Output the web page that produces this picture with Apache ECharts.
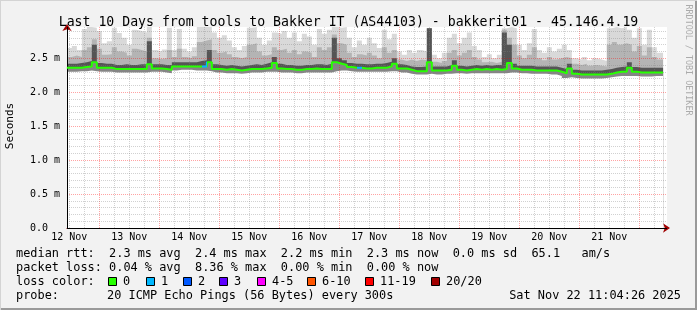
<!DOCTYPE html>
<html><head><meta charset="utf-8">
<script src="https://cdn.jsdelivr.net/npm/echarts@6/dist/echarts.min.js"></script>
<style>html,body{margin:0;padding:0;background:#f2f2f2}#c{width:697px;height:310px}</style>
</head><body><div id="c"></div>
<script>
// ---- time frame (hours since 12 Nov 00:00) ----
const startHour = 11 + 4/60;          // 12 Nov 11:04
const endHour = startHour + 240;      // 22 Nov 11:04
const binStart = 11;                  // first 2-hour bin starts 12 Nov 11:00
const binHours = 2;
const dataEndHour = 249.5;

// ---- axis labels ----
const dayLabelHours = [12, 36, 60, 84, 108, 132, 156, 180, 204, 228];
const dayLabels = ['12 Nov','13 Nov','14 Nov','15 Nov','16 Nov','17 Nov','18 Nov','19 Nov','20 Nov','21 Nov'];
const yTickValues = [0, 0.5, 1.0, 1.5, 2.0, 2.5];
const yTickLabels = ['0.0  ', '0.5 m', '1.0 m', '1.5 m', '2.0 m', '2.5 m'];

// ---- median RTT (ms), one value per 2-hour bin ----
const median = [
 2.36,2.36,2.36,2.37,2.38,2.44,2.36,2.36,2.36,2.34,
 2.34,2.34,2.34,2.34,2.34,2.34,2.41,2.35,2.35,2.34,
 2.33,2.38,2.38,2.38,2.38,2.38,2.38,2.38,2.44,2.34,
 2.34,2.33,2.34,2.33,2.32,2.33,2.34,2.34,2.34,2.35,
 2.36,2.43,2.35,2.34,2.34,2.33,2.33,2.34,2.34,2.35,
 2.34,2.34,2.34,2.44,2.42,2.40,2.37,2.36,2.36,2.35,
 2.35,2.36,2.36,2.36,2.38,2.42,2.35,2.35,2.33,2.31,
 2.31,2.31,2.44,2.32,2.32,2.32,2.33,2.39,2.33,2.32,
 2.33,2.34,2.33,2.34,2.33,2.34,2.33,2.34,2.43,2.35,
 2.33,2.33,2.33,2.32,2.32,2.32,2.32,2.32,2.30,2.28,
 2.35,2.27,2.26,2.26,2.26,2.26,2.26,2.26,2.27,2.29,
 2.30,2.30,2.36,2.30,2.29,2.29,2.29,2.29,2.29
];
// bins with packet loss (index into median) and lost pings
const lossBins = [27, 58];
const lossPings = [1, 1];

// ---- smoke envelope (ms) ----
const smokeLow = [
 2.30,2.30,2.31,2.31,2.32,2.31,2.30,2.30,2.30,2.29,
 2.29,2.29,2.29,2.29,2.29,2.29,2.30,2.30,2.30,2.29,
 2.28,2.32,2.33,2.33,2.33,2.32,2.32,2.32,2.31,2.29,
 2.29,2.28,2.28,2.28,2.27,2.28,2.29,2.29,2.29,2.30,
 2.30,2.30,2.29,2.29,2.29,2.28,2.28,2.29,2.29,2.29,
 2.29,2.29,2.29,2.31,2.32,2.32,2.31,2.30,2.30,2.30,
 2.30,2.30,2.30,2.30,2.31,2.31,2.29,2.29,2.27,2.26,
 2.26,2.26,2.27,2.26,2.26,2.27,2.27,2.28,2.28,2.27,
 2.28,2.28,2.28,2.28,2.28,2.28,2.28,2.28,2.29,2.29,
 2.28,2.28,2.27,2.27,2.27,2.27,2.26,2.26,2.24,2.21,
 2.22,2.21,2.20,2.20,2.20,2.20,2.20,2.21,2.22,2.23,
 2.24,2.24,2.24,2.24,2.23,2.23,2.23,2.24,2.24
];
const smokeDark = [
 2.42,2.42,2.43,2.44,2.46,2.70,2.43,2.42,2.42,2.40,
 2.40,2.41,2.40,2.40,2.41,2.41,2.75,2.41,2.41,2.40,
 2.40,2.44,2.44,2.44,2.44,2.44,2.46,2.47,2.62,2.41,
 2.40,2.39,2.40,2.39,2.38,2.39,2.40,2.41,2.40,2.42,
 2.44,2.52,2.42,2.40,2.40,2.39,2.39,2.40,2.40,2.41,
 2.41,2.40,2.42,2.80,2.50,2.47,2.43,2.42,2.42,2.41,
 2.41,2.42,2.42,2.43,2.45,2.50,2.41,2.40,2.38,2.37,
 2.37,2.38,2.94,2.38,2.38,2.38,2.40,2.47,2.39,2.38,
 2.39,2.40,2.39,2.40,2.39,2.40,2.40,2.88,2.70,2.42,
 2.39,2.39,2.39,2.38,2.38,2.38,2.38,2.38,2.36,2.34,
 2.42,2.33,2.32,2.32,2.32,2.32,2.32,2.33,2.34,2.36,
 2.37,2.38,2.44,2.37,2.36,2.36,2.36,2.36,2.36
];
const smokeMid = [
 2.52,2.54,2.52,2.62,2.66,2.78,2.64,2.55,2.56,2.66,
 2.60,2.58,2.54,2.64,2.62,2.60,2.80,2.50,2.49,2.50,
 2.62,2.52,2.64,2.52,2.50,2.53,2.74,2.76,2.78,2.62,
 2.58,2.60,2.56,2.52,2.50,2.52,2.70,2.72,2.60,2.54,
 2.56,2.66,2.62,2.64,2.58,2.62,2.56,2.60,2.58,2.52,
 2.66,2.62,2.66,2.85,2.72,2.70,2.58,2.52,2.56,2.54,
 2.58,2.54,2.50,2.66,2.58,2.62,2.48,2.46,2.48,2.46,
 2.48,2.47,2.94,2.45,2.43,2.46,2.58,2.62,2.54,2.58,
 2.62,2.52,2.48,2.44,2.45,2.43,2.45,2.92,2.80,2.70,
 2.54,2.50,2.55,2.66,2.50,2.47,2.52,2.48,2.50,2.52,
 2.50,2.42,2.40,2.42,2.39,2.40,2.39,2.38,2.70,2.74,
 2.70,2.72,2.70,2.60,2.68,2.54,2.66,2.52,2.48
];
const smokeTop = [
 2.65,2.68,2.62,2.93,2.96,2.95,2.90,2.72,2.75,2.95,
 2.87,2.80,2.70,2.92,2.90,2.88,2.96,2.62,2.60,2.63,
 2.95,2.62,2.93,2.64,2.60,2.66,2.96,2.96,2.96,2.88,
 2.80,2.84,2.76,2.66,2.62,2.68,2.95,2.96,2.80,2.70,
 2.76,2.88,2.86,2.90,2.80,2.88,2.75,2.86,2.82,2.70,
 2.93,2.86,2.92,2.96,2.95,2.96,2.80,2.66,2.76,2.70,
 2.80,2.72,2.65,2.92,2.78,2.86,2.60,2.55,2.62,2.58,
 2.62,2.60,2.94,2.55,2.50,2.58,2.80,2.86,2.72,2.80,
 2.88,2.68,2.62,2.52,2.56,2.50,2.55,2.94,2.96,2.94,
 2.70,2.62,2.72,2.93,2.62,2.58,2.66,2.60,2.64,2.70,
 2.62,2.50,2.48,2.52,2.47,2.50,2.48,2.46,2.94,2.96,
 2.94,2.96,2.92,2.80,2.94,2.70,2.92,2.66,2.58
];

// ---- legend texts ----
const lineMedian = 'median rtt:  2.3 ms avg  2.4 ms max  2.2 ms min  2.3 ms now  0.0 ms sd  65.1   am/s';
const lineLoss   = 'packet loss: 0.04 % avg  8.36 % max  0.00 % min  0.00 % now';
const lossLegendLabels = ['0','1','2','3','4-5','6-10','11-19','20/20'];
const lossLegendColors = ['#26ff00','#00b8ff','#0059ff','#5e00ff','#ff00ff','#ff5500','#ff0000','#a10000'];
const probeText = '20 ICMP Echo Pings (56 Bytes) every 300s';
const dateText = 'Sat Nov 22 11:04:26 2025';
const titleText = 'Last 10 Days from tools to Bakker IT (AS44103) - bakkerit01 - 45.146.4.19';

// ---- build series data ----
const N = median.length;
const hours = median.map((_, i) => binStart + binHours * i);
function stepData(arr) {
  const d = arr.map((v, i) => [hours[i], v]);
  d.push([dataEndHour, arr[N - 1]]);
  return d;
}

const mono = 'DejaVu Sans Mono';
// painted back to front: each layer fills from the axis up to its envelope
const layers = [
  { data: smokeTop,  color: '#d9d9d9' },
  { data: smokeMid,  color: '#b4b4b4' },
  { data: smokeDark, color: '#555555' },
  { data: median,    color: '#858585' },
  { data: smokeLow,  color: '#ffffff' }
];
const series = layers.map(l => ({
  type: 'line', step: 'end', symbol: 'none', silent: true,
  data: stepData(l.data), lineStyle: { width: 0, opacity: 0 },
  areaStyle: { color: l.color, opacity: 1, origin: 'start' }
}));

// grid lines (semi-transparent like rrdtool)
const minorCol = 'rgba(128,128,128,0.36)';
const majorCol = 'rgba(255,0,0,0.36)';
const gridLines = [];
for (let h = 12; h < endHour; h += 6) {
  const major = h % 24 === 0;
  gridLines.push({ xAxis: h, lineStyle: { color: major ? majorCol : minorCol, type: [1, 1], width: 1 } });
}
for (let k = 1; k <= 29; k++) {
  const major = k % 5 === 0;
  gridLines.push({ yAxis: k / 10, lineStyle: { color: major ? majorCol : minorCol, type: [1, 1], width: 1 } });
}
gridLines.push({ yAxis: 0, lineStyle: { color: '#000', type: 'solid', width: 1 } });
gridLines.push({ xAxis: startHour, lineStyle: { color: '#000', type: 'solid', width: 1 } });
series.push({
  type: 'line', data: [], silent: true, clip: false,
  markLine: { silent: true, symbol: 'none', animation: false, label: { show: false },
    emphasis: { disabled: true }, data: gridLines }
});
series.push({
  type: 'line', step: 'end', symbol: 'none', silent: true, name: 'median',
  data: stepData(median), lineStyle: { width: 2 }, z: 5
});
const medianIndex = series.length - 1;

const pieces = lossBins.map((b, j) => ({
  gte: hours[b], lt: hours[b] + binHours, color: lossLegendColors[Math.min(lossPings[j], 7)]
}));

// frame and legend graphics
const graphic = [
  { type: 'rect', shape: { x: 695, y: 0, width: 2, height: 310 }, style: { fill: '#9a9a9a' }, silent: true },
  { type: 'rect', shape: { x: 0, y: 308, width: 697, height: 2 }, style: { fill: '#9a9a9a' }, silent: true },
  { type: 'rect', shape: { x: 0, y: 0, width: 697, height: 1 }, style: { fill: '#d4d4d4' }, silent: true },
  { type: 'rect', shape: { x: 0, y: 0, width: 1, height: 310 }, style: { fill: '#d4d4d4' }, silent: true },
  { type: 'text', x: 10, y: 126, rotation: Math.PI / 2,
    style: { text: 'Seconds', font: '11px "DejaVu Sans Mono"', fill: '#000', align: 'center', verticalAlign: 'middle' } },
  { type: 'text', x: 688, y: 60, rotation: -Math.PI / 2,
    style: { text: 'RRDTOOL / TOBI OETIKER', font: '8.4px "DejaVu Sans Mono"', fill: '#ababab', align: 'center', verticalAlign: 'middle' } },
  { type: 'text', x: 16, y: 254, style: { text: lineMedian, font: '11.9px "DejaVu Sans Mono"', fill: '#000', verticalAlign: 'middle' } },
  { type: 'text', x: 16, y: 268, style: { text: lineLoss, font: '11.9px "DejaVu Sans Mono"', fill: '#000', verticalAlign: 'middle' } },
  { type: 'text', x: 16, y: 282, style: { text: 'loss color:', font: '11.9px "DejaVu Sans Mono"', fill: '#000', verticalAlign: 'middle' } },
  { type: 'text', x: 16, y: 296, style: { text: 'probe:', font: '11.9px "DejaVu Sans Mono"', fill: '#000', verticalAlign: 'middle' } },
  { type: 'text', x: 107, y: 296, style: { text: probeText, font: '11.9px "DejaVu Sans Mono"', fill: '#000', verticalAlign: 'middle' } },
  { type: 'text', x: 681, y: 296, style: { text: dateText, font: '11.9px "DejaVu Sans Mono"', fill: '#000', align: 'right', verticalAlign: 'middle' } }
];
const sqX = [108, 146, 183, 219, 257, 307, 365, 431];
lossLegendLabels.forEach((lab, k) => {
  graphic.push({ type: 'rect', shape: { x: sqX[k] + 0.5, y: 277.5, width: 8, height: 8 },
    style: { fill: lossLegendColors[k], stroke: '#000', lineWidth: 1 }, silent: true });
  graphic.push({ type: 'text', x: sqX[k] + 15, y: 282,
    style: { text: lab, font: '11.9px "DejaVu Sans Mono"', fill: '#000', verticalAlign: 'middle' } });
});

const chart = echarts.init(document.getElementById('c'), null, { renderer: 'canvas' });
chart.setOption({
  animation: false,
  backgroundColor: '#f2f2f2',
  title: { text: titleText, left: 'center', top: 11,
    textStyle: { fontFamily: mono, fontSize: 13.2, fontWeight: 'normal', color: '#000' } },
  grid: { left: 67, right: 30, top: 27, bottom: 82, show: true, backgroundColor: '#ffffff', borderWidth: 0 },
  xAxis: {
    type: 'value', min: startHour, max: endHour,
    axisLine: { show: true, lineStyle: { color: '#a00000', width: 1 }, symbol: ['none', 'arrow'], symbolSize: [7, 7], symbolOffset: [0, 3] },
    axisTick: { show: false },
    splitLine: { show: false },
    axisLabel: {
      customValues: dayLabelHours, margin: 4,
      formatter: v => dayLabels[dayLabelHours.indexOf(Math.round(v))] || '',
      fontFamily: mono, fontSize: 10, color: '#000'
    }
  },
  yAxis: {
    type: 'value', min: 0, max: 2.96,
    axisLine: { show: true, lineStyle: { color: '#a00000', width: 1 }, symbol: ['none', 'arrow'], symbolSize: [7, 7], symbolOffset: [0, 3] },
    axisTick: { show: false },
    splitLine: { show: false },
    axisLabel: {
      customValues: yTickValues, margin: 7,
      formatter: v => { const i = yTickValues.findIndex(t => Math.abs(t - v) < 1e-6); return i >= 0 ? yTickLabels[i] : ''; },
      fontFamily: mono, fontSize: 10, color: '#000'
    }
  },
  visualMap: {
    type: 'piecewise', show: false, seriesIndex: medianIndex, dimension: 0,
    pieces: pieces, outOfRange: { color: '#26ff00' }
  },
  graphic: graphic,
  series: series
});
</script></body></html>
